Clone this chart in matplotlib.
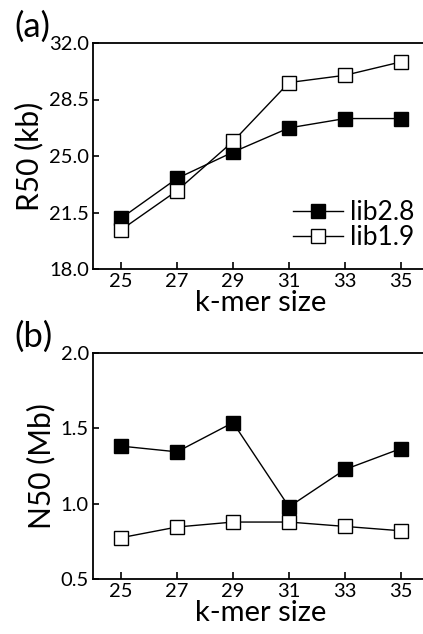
import matplotlib
matplotlib.use("Agg")
import matplotlib.pyplot as plt

plt.rcParams["font.family"] = ["Lato", "DejaVu Sans"]

kmer = [25, 27, 29, 31, 33, 35]

r50_lib28 = [21.14, 23.61, 25.24, 26.74, 27.32, 27.32]
r50_lib19 = [20.42, 22.85, 25.90, 29.55, 30.00, 30.83]

n50_lib28 = [1.382, 1.344, 1.538, 0.979, 1.227, 1.366]
n50_lib19 = [0.774, 0.845, 0.878, 0.878, 0.849, 0.820]

W, H = 423, 634
fig = plt.figure(figsize=(W / 100, H / 100), dpi=100)


def setup_axes(rect, yticks, ylabels, ylabel, panel):
    ax = fig.add_axes(rect)
    ax.set_xlim(24, 36)
    ax.set_ylim(yticks[0], yticks[-1])
    ax.set_xticks(kmer)
    ax.set_yticks(yticks)
    ax.set_yticklabels(ylabels)
    ax.tick_params(axis="x", direction="in", length=5, width=1.2,
                   labelsize=14.5, pad=3)
    ax.tick_params(axis="y", which="major", direction="in", length=11,
                   width=1.2, labelsize=14.5, left=True, right=True,
                   labelleft=True, labelright=False, pad=3)
    ax.tick_params(axis="y", left=True, direction="inout", length=4)
    ax.tick_params(axis="y", right=True, direction="in")
    for side in ["left", "bottom", "top"]:
        ax.spines[side].set_linewidth(1.3)
    ax.spines["right"].set_visible(False)
    ax.set_xlabel("k-mer size", fontsize=21, labelpad=0)
    ax.set_ylabel(ylabel, fontsize=21.5, labelpad=4)
    ax.text(-0.235, 1.0, panel, transform=ax.transAxes, fontsize=25,
            ha="left", va="bottom")
    return ax


def draw(ax, y28, y19):
    ax.plot(kmer, y28, color="black", lw=1.0, marker="s", markersize=9.5,
            markerfacecolor="black", markeredgecolor="black", label="lib2.8")
    ax.plot(kmer, y19, color="black", lw=1.0, marker="s", markersize=9.5,
            markerfacecolor="white", markeredgecolor="black",
            markeredgewidth=1.0, label="lib1.9")


ax_a = setup_axes([93 / W, 1 - 269 / H, 336 / W, 226 / H],
                  [18.0, 21.5, 25.0, 28.5, 32.0],
                  ["18.0", "21.5", "25.0", "28.5", "32.0"], "R50 (kb)", "(a)")
draw(ax_a, r50_lib28, r50_lib19)
ax_a.legend(loc="upper left", bbox_to_anchor=(0.595, 0.305), frameon=False,
            fontsize=19, handlelength=1.9, handletextpad=0.25,
            labelspacing=0.0, borderpad=0, borderaxespad=0)

ax_b = setup_axes([93 / W, 1 - 579 / H, 336 / W, 226 / H],
                  [0.5, 1.0, 1.5, 2.0],
                  ["0.5", "1.0", "1.5", "2.0"], "N50 (Mb)", "(b)")
draw(ax_b, n50_lib28, n50_lib19)

fig.savefig("out.png", dpi=100)
